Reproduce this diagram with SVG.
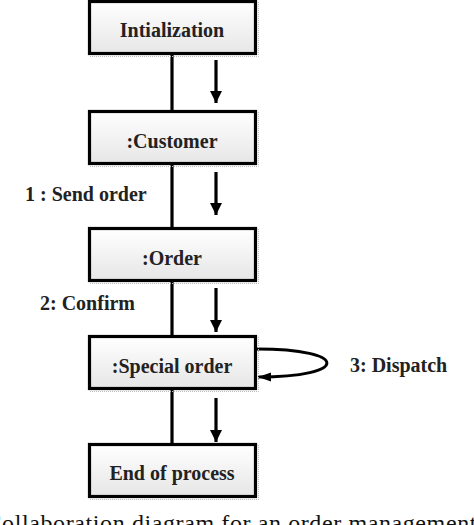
<svg xmlns="http://www.w3.org/2000/svg" width="474" height="525" viewBox="0 0 474 525">
<defs>
<linearGradient id="g" x1="0" y1="0" x2="0" y2="1">
<stop offset="0" stop-color="#ffffff"/>
<stop offset="1" stop-color="#e6e6e6"/>
</linearGradient>
<marker id="ah" markerUnits="userSpaceOnUse" markerWidth="14" markerHeight="14" viewBox="0 0 14 14" refX="12" refY="7" orient="auto">
<path d="M0,1 L12,7 L0,13 Z" fill="#000"/>
</marker>
<marker id="ah2" markerUnits="userSpaceOnUse" markerWidth="14" markerHeight="12" viewBox="0 0 14 12" refX="13" refY="6" orient="auto">
<path d="M0,1.5 L13,6 L0,10.5 Z" fill="#000"/>
</marker>
<style>
.box{fill:url(#g);stroke:#000;stroke-width:3.2}
.sh{fill:none;stroke:#bbb;stroke-width:1;stroke-dasharray:1 1}
.t{font-family:"Liberation Serif","Times New Roman",serif;font-weight:bold;font-size:20px;fill:#222;text-anchor:middle}
.lbl{font-family:"Liberation Serif","Times New Roman",serif;font-weight:bold;font-size:20px;fill:#222}
.ln{stroke:#000;stroke-width:3.2;fill:none}
.ar{stroke:#000;stroke-width:3.2;fill:none;marker-end:url(#ah)}
.cap{font-family:"Liberation Serif","Times New Roman",serif;font-size:24px;fill:#111;letter-spacing:0.6px}
</style>
</defs>
<g id="connectors">
<line class="ln" x1="172" y1="54" x2="172" y2="111"/>
<line class="ln" x1="172" y1="164" x2="172" y2="228"/>
<line class="ln" x1="172" y1="282" x2="172" y2="336"/>
<line class="ln" x1="172" y1="390" x2="172" y2="444"/>
<line class="ar" x1="216" y1="60" x2="216" y2="103"/>
<line class="ar" x1="216" y1="172" x2="216" y2="215"/>
<line class="ar" x1="216" y1="288" x2="216" y2="332"/>
<line class="ar" x1="216" y1="398" x2="216" y2="442"/>
<path d="M257,349 C350,349 350,377 258,377" stroke="#000" stroke-width="3" fill="none" marker-end="url(#ah2)"/>
</g>
<g id="n1">
<path class="sh" d="M258.5,2 V56.5 H90"/>
<rect class="box" x="89.5" y="1.5" width="166" height="52"/>
<text class="t" x="172" y="37">Intialization</text>
</g>
<g id="n2">
<path class="sh" d="M258.5,112 V166.5 H90"/>
<rect class="box" x="89.5" y="111.5" width="166" height="52"/>
<text class="t" x="172" y="148">:Customer</text>
</g>
<g id="n3">
<path class="sh" d="M258.5,229 V283.5 H90"/>
<rect class="box" x="89.5" y="228.5" width="166" height="52"/>
<text class="t" x="172" y="265">:Order</text>
</g>
<g id="n4">
<path class="sh" d="M258.5,337 V391.5 H90"/>
<rect class="box" x="89.5" y="336.5" width="166" height="52"/>
<text class="t" x="172" y="373">:Special order</text>
</g>
<g id="n5">
<path class="sh" d="M258.5,445 V499.5 H90"/>
<rect class="box" x="89.5" y="444.5" width="166" height="52"/>
<text class="t" x="172" y="480">End of process</text>
</g>
<g id="labels">
<text class="lbl" x="25" y="201">1 : Send order</text>
<text class="lbl" x="40" y="310">2: Confirm</text>
<text class="lbl" x="350" y="372">3: Dispatch</text>
</g>
<text class="cap" x="-14.5" y="531">Collaboration diagram for an order management</text>
</svg>
